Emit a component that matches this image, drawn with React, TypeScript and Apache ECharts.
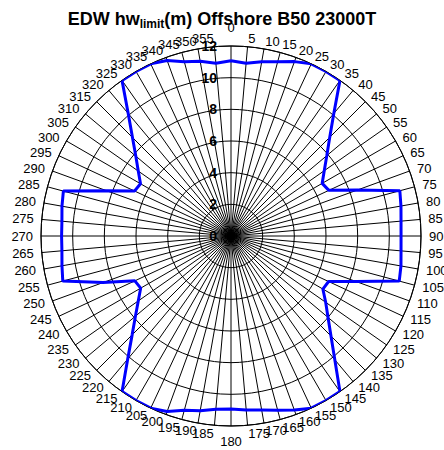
import React, { useEffect, useRef } from 'react';
import * as echarts from 'echarts';

const TITLE_MAIN = 'EDW hw';
const TITLE_SUB = 'limit';
const TITLE_REST = '(m) Offshore B50 23000T';

const angles = [
  0, 5, 10, 15, 20, 25, 30, 35, 40, 45, 50, 55, 60, 65, 70, 75, 80, 85,
  90, 95, 100, 105, 110, 115, 120, 125, 130, 135, 140, 145, 150, 155, 160, 165, 170, 175,
  180, 185, 190, 195, 200, 205, 210, 215, 220, 225, 230, 235, 240, 245, 250, 255, 260, 265,
  270, 275, 280, 285, 290, 295, 300, 305, 310, 315, 320, 325, 330, 335, 340, 345, 350, 355,
];

const angleLabels = [
  '0', '5', '10', '15', '20', '25', '30', '35', '40', '45', '50', '55', '60', '65', '70', '75', '80', '85',
  '90', '95', '100', '105', '110', '115', '120', '125', '130', '135', '140', '145', '150', '155', '160', '165', '170', '175',
  '180', '185', '190', '195', '200', '205', '210', '215', '220', '225', '230', '235', '240', '245', '250', '255', '260', '265',
  '270', '275', '280', '285', '290', '295', '300', '305', '310', '315', '320', '325', '330', '335', '340', '345', '350', '355',
];

const hwLimit = [
  11.07, 10.95, 11.18, 11.4, 11.72, 12.0, 12.0, 12.0, 10.1, 8.82, 7.9, 7.19, 6.65, 6.82, 8.5, 11.04, 10.9, 10.78,
  10.74, 10.78, 10.9, 11.0, 8.4, 6.8, 6.7, 7.3, 8.0, 8.93, 10.2, 12.0, 12.0, 12.0, 11.7, 11.4, 11.16, 11.03,
  10.93, 10.98, 11.2, 11.4, 11.8, 12.0, 12.0, 12.0, 10.15, 8.83, 7.88, 7.15, 6.59, 6.7, 8.6, 11.0, 10.84, 10.72,
  10.7, 10.72, 10.84, 10.96, 8.35, 6.72, 6.6, 7.15, 7.85, 8.8, 10.1, 12.0, 12.0, 12.0, 11.8, 11.4, 11.2, 10.95,
];

const radiusTicks = [0, 2, 4, 6, 8, 10, 12];

const FONT = '"Liberation Sans", Arial, sans-serif';

export default function App() {
  const ref = useRef<HTMLDivElement>(null);

  useEffect(() => {
    document.body.style.margin = '0';
    if (!ref.current) return;
    const chart = echarts.init(ref.current, undefined, { renderer: 'svg' });

    const data: number[][] = angles.map((a, i) => [hwLimit[i], a]);
    data.push([hwLimit[0], 360]);

    chart.setOption({
      animation: false,
      backgroundColor: '#fff',
      title: {
        text: `{a|${TITLE_MAIN}}{b|${TITLE_SUB}}{a|${TITLE_REST}}`,
        left: 'center',
        top: 3,
        textStyle: {
          rich: {
            a: { fontSize: 18, fontWeight: 'bold', fontFamily: FONT, color: '#000', lineHeight: 22 },
            b: { fontSize: 12, fontWeight: 'bold', fontFamily: FONT, color: '#000', lineHeight: 13, verticalAlign: 'bottom' },
          },
        },
      },
      polar: { center: [231, 236], radius: 190 },
      angleAxis: {
        type: 'value',
        min: 0,
        max: 360,
        interval: 5,
        startAngle: 90,
        clockwise: true,
        axisLine: { show: true, lineStyle: { color: '#000', width: 1 } },
        axisTick: { show: false },
        axisLabel: { show: false },
        splitLine: { show: true, lineStyle: { color: '#000', width: 1 } },
      },
      radiusAxis: {
        type: 'value',
        min: radiusTicks[0],
        max: radiusTicks[radiusTicks.length - 1],
        interval: 2,
        axisLine: { show: false },
        axisTick: { show: false },
        axisLabel: {
          show: true,
          fontSize: 14,
          fontWeight: 'bold',
          fontFamily: FONT,
          color: '#000',
          margin: 14,
        },
        splitLine: { show: true, lineStyle: { color: '#000', width: 1 } },
      },
      series: [
        {
          type: 'line',
          coordinateSystem: 'polar',
          data,
          symbol: 'none',
          smooth: false,
          lineStyle: { color: '#0000ff', width: 3 },
          z: 5,
        },
      ],
    });

    const graphics = angles.map((a, i) => {
      let align = 'left';
      let va = 'middle';
      let r = 12.5;
      if (a === 0) {
        align = 'center';
        va = 'bottom';
        r = 12.75;
      } else if (a === 180) {
        align = 'center';
        va = 'top';
        r = 12.55;
      } else if (a > 180) {
        align = 'right';
      }
      const p = chart.convertToPixel({ polarIndex: 0 } as any, [r, a]) as number[];
      return {
        type: 'text',
        x: p[0],
        y: p[1],
        silent: true,
        style: {
          text: angleLabels[i],
          align,
          verticalAlign: va,
          textAlign: align,
          textVerticalAlign: va,
          fontSize: 13,
          fontFamily: FONT,
          fill: '#000',
        },
      };
    });
    chart.setOption({ graphic: graphics });

    return () => {
      chart.dispose();
    };
  }, []);

  return <div ref={ref} style={{ width: 444, height: 450 }} />;
}
